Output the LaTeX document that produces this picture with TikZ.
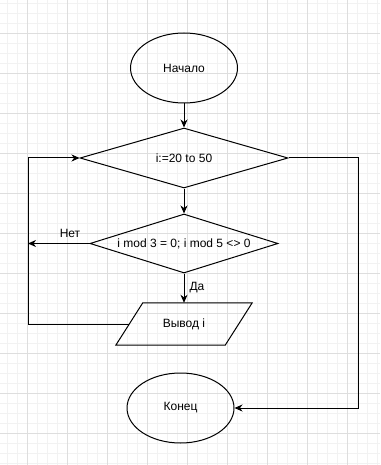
\documentclass[tikz,border=0pt]{standalone}
\usepackage{fontspec}
\setmainfont{Liberation Sans}
\usetikzlibrary{shapes.geometric,arrows.meta}
\begin{document}
\begin{tikzpicture}[x=1pt,y=-1pt,font=\fontsize{12}{14}\selectfont,
  line/.style={draw=black,line width=1pt,line join=miter},
  arr/.style={line,-{Stealth[length=8pt,width=7pt,inset=2.5pt]}},
  term/.style={ellipse,draw,line width=1pt,minimum width=107pt,minimum height=70pt,inner sep=0pt},
  dec/.style={diamond,draw,line width=1pt,inner sep=0pt},
  minorgrid/.style={draw=black!5,line width=0.5pt},
  majorgrid/.style={draw=black!13,line width=0.6pt}]
\useasboundingbox (0,0) rectangle (380,465);
\fill[white] (0,0) rectangle (380,465);
\foreach \x in {7,17,...,377} \draw[minorgrid] (\x,0) -- (\x,465);
\foreach \y in {3,13,...,463} \draw[minorgrid] (0,\y) -- (380,\y);
\foreach \x in {27,67,...,347} \draw[majorgrid] (\x,0) -- (\x,465);
\foreach \y in {33,73,...,433} \draw[majorgrid] (0,\y) -- (380,\y);

\node[term] (start) at (184,68) {Начало};
\node[dec,shape aspect=3.48,minimum width=208pt,minimum height=60pt] (d1) at (184,158) {i:=20 to 50};
\node[dec,shape aspect=3.2,minimum width=188pt,minimum height=59pt] (d2) at (184,243.5) {i mod 3 = 0; i mod 5 <> 0};
\node[minimum width=109pt,minimum height=42pt,inner sep=0pt] (out) at (184,324) {Вывод i};
\draw[line] ([xshift=13.5pt]out.north west) -- ([xshift=13.5pt]out.north east)
  -- ([xshift=-13.5pt]out.south east) -- ([xshift=-13.5pt]out.south west) -- cycle;
\node[term] (end) at (180.5,408) {Конец};

\node (no) at (70,233) {Нет};
\node (yes) at (197,288) {Да};

\coordinate (lx) at (28,0);
\coordinate (rx) at (358,0);

\draw[arr] (start.south) -- (d1.north);
\draw[arr] (d1.south) -- (d2.north);
\draw[arr] (d2.south) -- (out.north);
\draw[arr] (d2.west) -- (d2.west -| lx);
\draw[arr] (out.west) -- (out.west -| lx) |- (d1.west);
\draw[arr] (d1.east) -- (d1.east -| rx) |- (end.east);
\end{tikzpicture}
\end{document}
